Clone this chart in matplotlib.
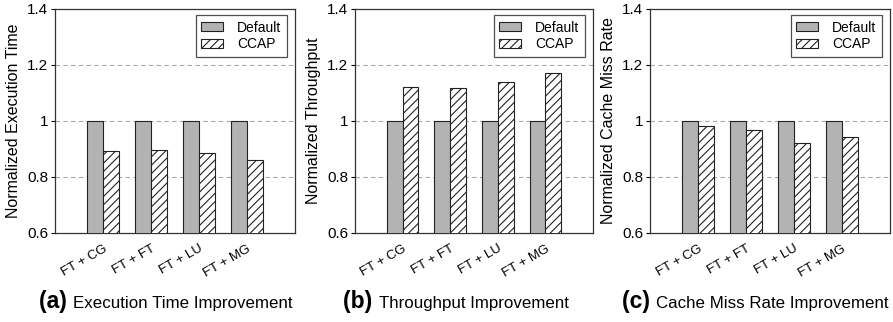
import numpy as np
import matplotlib
matplotlib.use("Agg")
import matplotlib.pyplot as plt

plt.rcParams['font.family'] = ['Liberation Sans', 'DejaVu Sans']
plt.rcParams['hatch.linewidth'] = 0.8

# === DONNÉES
categories = ["FT + CG", "FT + FT", "FT + LU", "FT + MG"]
series_names = ["Default", "CCAP"]
exec_default = [1.0, 1.0, 1.0, 1.0]
exec_ccap = [0.893, 0.898, 0.884, 0.861]
thr_default = [1.0, 1.0, 1.0, 1.0]
thr_ccap = [1.123, 1.119, 1.141, 1.173]
miss_default = [1.0, 1.0, 1.0, 1.0]
miss_ccap = [0.983, 0.967, 0.923, 0.944]
y_labels = ["Normalized Execution Time", "Normalized Throughput", "Normalized Cache Miss Rate"]
captions = [("(a)", "Execution Time Improvement"),
            ("(b)", "Throughput Improvement"),
            ("(c)", "Cache Miss Rate Improvement")]
y_ticks = [0.6, 0.8, 1.0, 1.2, 1.4]
y_tick_labels = ["0.6", "0.8", "1", "1.2", "1.4"]

panels = [(exec_default, exec_ccap), (thr_default, thr_ccap), (miss_default, miss_ccap)]
lefts = [55, 355, 650]
widths = [240, 238, 240]
cap_centres = [166, 456, 762]

W, H = 893, 322
fig = plt.figure(figsize=(W / 100, H / 100), dpi=100)

x = np.arange(1, len(categories) + 1)
bw = 0.33

for i, (d, c) in enumerate(panels):
    ax = fig.add_axes([lefts[i] / W, 1 - 233 / H, widths[i] / W, 224 / H])
    ax.bar(x - bw / 2, d, bw, bottom=0, color='#b3b3b3', edgecolor='#222222',
           linewidth=0.8, label=series_names[0], zorder=3)
    ax.bar(x + bw / 2, c, bw, bottom=0, color='white', edgecolor='#222222',
           hatch='////', linewidth=0.8, label=series_names[1], zorder=3)
    ax.set_xlim(0, 5)
    ax.set_ylim(0.6, 1.4)
    ax.set_yticks(y_ticks)
    ax.set_yticklabels(y_tick_labels, fontsize=11)
    ax.set_xticks(x)
    ax.set_xticklabels(categories, rotation=30, ha='right', rotation_mode='anchor', fontsize=9.5)
    ax.tick_params(axis='x', length=0, pad=7)
    ax.tick_params(axis='y', length=3, width=0.8, pad=2)
    ax.set_ylabel(y_labels[i], fontsize=11.5, labelpad=4)
    for y in [0.8, 1.0, 1.2]:
        ax.axhline(y, color='#aaaaaa', linestyle='--', linewidth=0.8, dashes=(4, 3), zorder=1)
    for s in ax.spines.values():
        s.set_linewidth(0.9)
        s.set_color('#333333')
    leg = ax.legend(loc='upper right', fontsize=10, frameon=True, fancybox=False,
                    edgecolor='#222222', borderpad=0.4, handlelength=1.6, handleheight=0.6,
                    handletextpad=1.0, labelspacing=0.2, borderaxespad=0,
                    bbox_to_anchor=(1 - 8 / widths[i], 1 - 6 / 224))
    leg.get_frame().set_linewidth(0.9)

    lab, txt = captions[i]
    t1 = fig.text(0, 0, lab + " ", fontsize=16.5, fontweight='bold')
    t2 = fig.text(0, 0, txt, fontsize=12.2)
    fig.canvas.draw()
    r = fig.canvas.get_renderer()
    w1 = t1.get_window_extent(r).width
    w2 = t2.get_window_extent(r).width
    x0 = cap_centres[i] - (w1 + w2) / 2
    x0 = min(x0, 889 - (w1 + w2))
    yb = 1 - 308 / H
    t1.set_position((x0 / W, yb))
    t2.set_position(((x0 + w1) / W, yb))

fig.savefig("out.png", dpi=100)
